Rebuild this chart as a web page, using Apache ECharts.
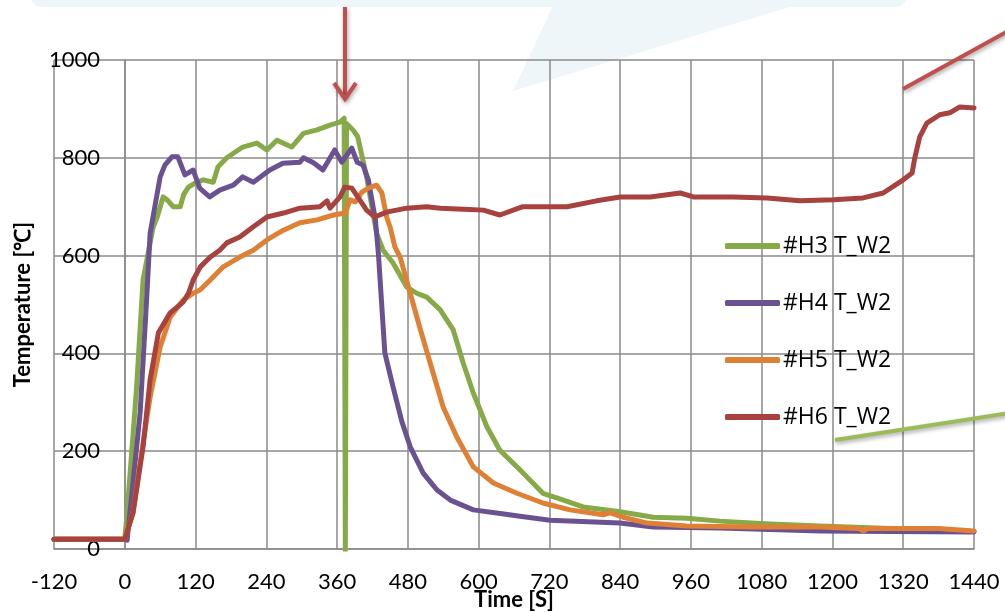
<!DOCTYPE html>
<html lang="en">
<head>
    <meta charset="UTF-8">
    <title>Temperature T_W2</title>
    <script src="https://cdn.jsdelivr.net/npm/echarts@6/dist/echarts.min.js"></script>
    <style>
        html, body { margin: 0; padding: 0; background: #fff; }
        #main { width: 1005px; height: 612px; }
    </style>
</head>
<body>
<div id="main"></div>
<script>
    // 读图得到的数据 [时间 s, 温度 ℃]
    const names = ['#H3 T_W2', '#H4 T_W2', '#H5 T_W2', '#H6 T_W2'];
    const colors = ['#86aa48', '#6a5292', '#e08034', '#a8423e'];

    const h3 = [[-120,20],[0,20],[4,74],[20,330],[31,550],[48,658],[55,679],[65,720],[72,714],[82,700],[94,700],[100,725],[108,740],[119,748],[133,755],[150,750],[158,781],[173,800],[200,822],[224,830],[241,816],[258,836],[283,822],[303,850],[326,857],[348,867],[365,873],[372,881],[374,-4],[376,870],[387,857],[395,843],[410,761],[427,646],[438,611],[455,585],[478,536],[495,523],[512,515],[535,489],[557,448],[574,380],[591,319],[614,250],[636,202],[665,168],[687,141],[709,114],[744,100],[777,86],[840,76],[896,65],[953,63],[1009,57],[1094,51],[1179,47],[1300,42],[1440,36]];

    const h4 = [[-120,20],[0,20],[4,18],[26,278],[37,509],[43,646],[60,761],[68,785],[80,802],[90,802],[102,765],[116,775],[127,738],[144,720],[161,734],[184,744],[200,761],[218,750],[246,775],[268,789],[297,791],[303,800],[320,790],[336,775],[356,816],[368,791],[385,820],[394,791],[404,785],[413,755],[419,714],[425,673],[430,605],[441,401],[455,331],[470,260],[484,209],[506,155],[530,120],[552,100],[591,80],[640,72],[670,67],[721,59],[840,53],[896,45],[1009,43],[1179,37],[1300,36],[1440,35]];

    const h5 = [[-120,20],[0,20],[14,74],[26,176],[43,311],[60,413],[77,474],[99,509],[116,523],[128,530],[145,550],[167,577],[195,597],[218,611],[241,632],[269,652],[297,667],[326,673],[354,683],[374,687],[382,714],[391,710],[402,730],[413,738],[427,744],[436,728],[444,679],[450,658],[458,618],[467,597],[484,523],[500,454],[518,380],[540,290],[563,229],[591,168],[625,135],[665,114],[709,94],[755,80],[811,70],[823,74],[845,65],[886,53],[953,47],[1066,45],[1179,45],[1245,42],[1252,37],[1260,42],[1380,42],[1440,37]];

    const h6 = [[-120,20],[0,20],[14,74],[31,209],[43,346],[57,442],[77,483],[99,505],[108,523],[116,550],[128,577],[145,597],[161,611],[173,626],[195,638],[218,659],[241,679],[269,687],[297,697],[331,700],[343,712],[348,697],[365,720],[373,740],[385,738],[395,720],[410,693],[424,679],[444,689],[478,697],[512,700],[535,697],[575,695],[608,693],[636,683],[675,700],[750,700],[800,712],[840,720],[891,720],[942,728],[964,720],[1032,720],[1089,718],[1145,712],[1202,714],[1252,718],[1286,728],[1320,755],[1335,769],[1340,802],[1348,843],[1360,871],[1382,888],[1399,892],[1416,904],[1440,902]];

    const seriesData = [h3, h4, h5, h6];

    const gridColor = '#8a8a8a';
    const font = 'Lato, "Liberation Sans", sans-serif';

    var chart = echarts.init(document.getElementById('main'));

    // 背景与标注图形
    const shadow = { shadowBlur: 4, shadowColor: 'rgba(0,0,0,0.35)', shadowOffsetX: 1, shadowOffsetY: 2 };
    const graphics = [
        { type: 'rect', z: -10, shape: { x: 30, y: -20, width: 877, height: 27, r: 12 }, style: { fill: '#eef6f9' } },
        { type: 'polygon', z: -10, shape: { points: [[553, 6], [513, 91], [793, 6]] }, style: { fill: '#eef6f9' } },
        { type: 'line', z: 100, shape: { x1: 345, y1: 7, x2: 345, y2: 97 }, style: Object.assign({ stroke: '#c0504d', lineWidth: 4 }, shadow) },
        { type: 'polyline', z: 100, shape: { points: [[334, 83], [345, 99], [356, 83]] }, style: Object.assign({ stroke: '#c0504d', lineWidth: 4, fill: null }, shadow) },
        { type: 'line', z: 100, shape: { x1: 903, y1: 89, x2: 1010, y2: 30 }, style: Object.assign({ stroke: '#c0504d', lineWidth: 4 }, shadow) },
        { type: 'line', z: 100, shape: { x1: 835, y1: 440, x2: 1010, y2: 413 }, style: Object.assign({ stroke: '#9bbb59', lineWidth: 4 }, shadow) }
    ];

    chart.setOption({
        animation: false,
        backgroundColor: '#fff',
        grid: { left: 54, right: 31, top: 60, bottom: 63, outerBoundsMode: 'none', containLabel: false },
        graphic: graphics,
        legend: {
            orient: 'vertical',
            left: 725,
            top: 234,
            padding: 0,
            itemWidth: 55,
            itemHeight: 6,
            itemGap: 33,
            icon: 'roundRect',
            textStyle: { fontFamily: '"Open Sans", sans-serif', fontSize: 23, color: '#000', lineHeight: 24, height: 24, padding: [0, 0, 0, -2] },
            data: names
        },
        xAxis: {
            type: 'value',
            min: -120,
            max: 1440,
            interval: 120,
            name: 'Time [S]',
            nameLocation: 'middle',
            nameGap: 40,
            nameMoveOverlap: false,
            nameTextStyle: { fontFamily: font, fontSize: 22, fontWeight: 'bold', color: '#000' },
            axisLine: { show: true, lineStyle: { color: gridColor, width: 1.5 } },
            axisTick: { show: false },
            axisLabel: { fontFamily: font, fontSize: 22, color: '#000', margin: 22, formatter: function (v) { return String(v); } },
            splitLine: { show: true, lineStyle: { color: gridColor, width: 1.5 } }
        },
        yAxis: {
            type: 'value',
            min: 0,
            max: 1000,
            interval: 200,
            name: 'Temperature [\u2103]',
            nameLocation: 'middle',
            nameGap: 20,
            nameMoveOverlap: false,
            nameRotate: 90,
            nameTextStyle: { fontFamily: font, fontSize: 22, fontWeight: 'bold', color: '#000' },
            axisLine: { show: true, lineStyle: { color: gridColor, width: 1.5 } },
            axisTick: { show: false },
            axisLabel: { fontFamily: font, fontSize: 22, color: '#000', margin: -46, formatter: function (v) { return String(v); } },
            splitLine: { show: true, lineStyle: { color: gridColor, width: 1.5 } }
        },
        series: names.map(function (n, i) {
            return {
                name: n,
                type: 'line',
                data: seriesData[i],
                showSymbol: false,
                symbol: 'none',
                color: colors[i],
                lineStyle: { width: 5, color: colors[i], cap: 'round', join: 'round' }
            };
        })
    });
</script>
</body>
</html>
